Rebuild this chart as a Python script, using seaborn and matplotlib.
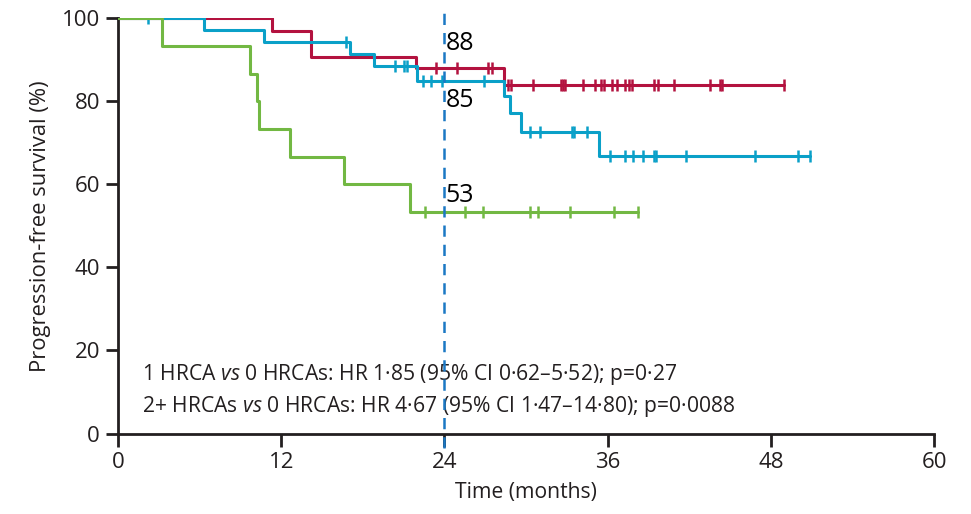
import numpy as np
import pandas as pd
import matplotlib
matplotlib.use("Agg")
import matplotlib.pyplot as plt
import seaborn as sns

# step times (months) and survival (%) after each drop
red_times = [11.3, 14.2, 21.9, 28.4]
red_surv = [96.9, 90.7, 88.0, 84.0]
red_end = 49.0
red_cens = [23.4, 24.9, 27.2, 27.5, 28.7, 28.9, 30.5, 32.55, 32.75, 32.9, 34.2, 35.1,
            35.5, 35.7, 36.3, 36.7, 37.3, 37.55, 37.8, 39.4, 39.7, 40.9, 43.55, 44.25,
            44.4, 49.0]

blue_times = [6.3, 10.7, 17.05, 18.8, 22.0, 28.35, 28.8, 29.6, 35.4]
blue_surv = [97.2, 94.3, 91.3, 88.5, 84.9, 81.4, 77.1, 72.7, 66.8]
blue_end = 50.9
blue_cens = [2.2, 16.8, 20.4, 21.0, 21.25, 22.4, 23.0, 23.8, 26.9, 30.3, 31.0, 33.35,
             33.55, 34.5, 36.2, 37.3, 37.85, 38.6, 39.4, 39.55, 41.75, 46.8, 50.0, 50.9]

green_times = [3.25, 9.7, 10.2, 10.4, 12.65, 16.6, 21.45]
green_surv = [93.3, 86.7, 80.0, 73.3, 66.7, 60.0, 53.3]
green_end = 38.2
green_cens = [22.6, 25.5, 26.85, 30.3, 30.85, 33.2, 36.5, 38.2]

landmark = 24
landmark_labels = ["88", "85", "53"]
landmark_label_y = [94.0, 80.3, 57.4]

hr_lines = [
    r"1 HRCA $\it{vs}$ 0 HRCAs: HR 1·85 (95% CI 0·62–5·52); p=0·27",
    r"2+ HRCAs $\it{vs}$ 0 HRCAs: HR 4·67 (95% CI 1·47–14·80); p=0·0088",
]

RED = "#b3123f"
BLUE = "#0aa0c8"
GREEN = "#72b843"
DASH = "#1b78c4"
INK = "#231f20"

sns.set_style("ticks")
plt.rcParams["font.family"] = ["Open Sans", "DejaVu Sans"]
plt.rcParams["mathtext.fontset"] = "custom"
plt.rcParams["mathtext.rm"] = "Open Sans"
plt.rcParams["mathtext.it"] = "Open Sans:italic"


def step_frame(name, times, surv, end):
    t = [0] + list(times) + [end]
    s = [100] + list(surv) + [surv[-1]]
    return pd.DataFrame({"group": name, "time": t, "surv": s})


def level_at(times, surv, t):
    idx = np.searchsorted(times, t, side="right")
    levels = np.concatenate([[100], surv])
    return levels[idx]


df = pd.concat([
    step_frame("0 HRCAs", red_times, red_surv, red_end),
    step_frame("1 HRCA", blue_times, blue_surv, blue_end),
    step_frame("2+ HRCAs", green_times, green_surv, green_end),
], ignore_index=True)

fig = plt.figure(figsize=(9.71, 5.14), dpi=100)
ax = fig.add_axes([0.1215, 0.1566, 0.8405, 0.8078])

groups = [("0 HRCAs", RED, red_times, red_surv, red_cens, 2),
          ("1 HRCA", BLUE, blue_times, blue_surv, blue_cens, 3),
          ("2+ HRCAs", GREEN, green_times, green_surv, green_cens, 4)]

for name, col, times, surv, cens, z in groups:
    sub = df[df["group"] == name]
    sns.lineplot(data=sub, x="time", y="surv", ax=ax, color=col, lw=2.2,
                 drawstyle="steps-post", estimator=None, sort=False, zorder=z,
                 legend=False)
    ax.plot(cens, level_at(times, surv, cens), linestyle="none", marker="|",
            markersize=8, markeredgewidth=1.8, color=col, zorder=z)

# 24-month landmark
ax.plot([landmark, landmark], [-3.5, 102], color=DASH, lw=1.8,
        linestyle=(0, (4.5, 3.2)), clip_on=False, zorder=5)

for lab, y in zip(landmark_labels, landmark_label_y):
    ax.text(landmark + 0.1, y, lab, fontsize=18, color="black", va="center", ha="left")

ax.text(1.8, 14.1, hr_lines[0], fontsize=15.2, color=INK, va="center")
ax.text(1.8, 6.6, hr_lines[1], fontsize=15.2, color=INK, va="center")

ax.set_xlim(0, 60)
ax.set_ylim(0, 100)
ax.set_xticks([0, 12, 24, 36, 48, 60])
ax.set_yticks([0, 20, 40, 60, 80, 100])
ax.set_xlabel("Time (months)", fontsize=15.2, color=INK, labelpad=7)
ax.set_ylabel("Progression-free survival (%)", fontsize=15.8, color=INK, labelpad=8)
ax.tick_params(axis="both", direction="out", length=9, width=2, colors=INK,
               labelsize=16, pad=4)
for side in ["top", "right"]:
    ax.spines[side].set_visible(False)
for side in ["left", "bottom"]:
    ax.spines[side].set_linewidth(2)
    ax.spines[side].set_color(INK)
ax.set_facecolor("white")

fig.savefig("out.png", dpi=100, facecolor="white")
